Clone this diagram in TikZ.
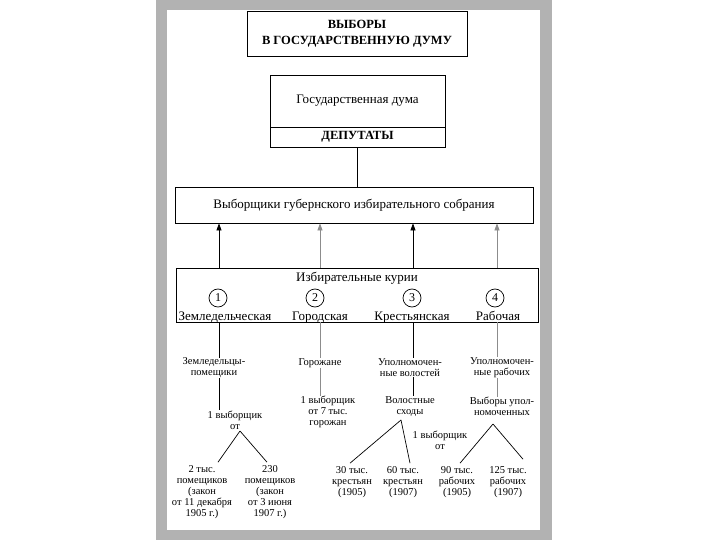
\documentclass[tikz,border=0pt]{standalone}
\usepackage{fontspec}
\setmainfont{Liberation Serif}
\usetikzlibrary{arrows.meta}
\begin{document}
\begin{tikzpicture}[x=1pt,y=-1pt,
  box/.style={draw, line width=0.8pt, inner sep=0pt},
  big/.style={font=\fontsize{13}{15}\selectfont},
  lab/.style={big, inner sep=0pt, anchor=base},
  txt/.style={font=\fontsize{10.5}{11}\selectfont, align=center, inner sep=0pt},
  ln/.style={line width=0.7pt},
  arr/.style={line width=0.7pt, -{Triangle[length=7pt,width=5pt]}},
  faint/.style={draw=black!45},
  num/.style={circle, draw, line width=0.7pt, minimum size=18pt, inner sep=0pt, font=\fontsize{12}{13}\selectfont}
]
\useasboundingbox (0,0) rectangle (720,540);
\fill[black!30] (156,0) rectangle (552,540);
\fill[white] (167,10) rectangle (540,530);

% title
\node[box, minimum width=220pt, minimum height=45pt, align=center,
      font=\fontsize{12.5}{16}\selectfont\bfseries] (title) at (357,33.5)
  {ВЫБОРЫ\\В ГОСУДАРСТВЕННУЮ ДУМУ};

% duma
\node[box, big, minimum width=175pt, minimum height=52pt] (duma) at (357.5,101) {Государственная дума};
\node[box, minimum width=175pt, minimum height=20pt, font=\fontsize{12.5}{13}\selectfont\bfseries] (dep) at (357.5,137) {ДЕПУТАТЫ};

% electors
\node[box, big, minimum width=358pt, minimum height=36pt] (vyb) at (354,205)
  {Выборщики губернского избирательного собрания};
\draw[ln] (dep.south) -- (dep.south |- vyb.north);

% curiae
\node[box, minimum width=362pt, minimum height=54pt] (kur) at (357,295) {};
\node[lab] (kurt) at (357,281.5) {Избирательные курии};
\node[num] (n1) at (218,298) {1};
\node[num] (n2) at (315,298) {2};
\node[num] (n3) at (412,298) {3};
\node[num] (n4) at (495,298) {4};
\node[lab] (k1) at (225,320) {Земледельческая};
\node[lab] (k2) at (320,320) {Городская};
\node[lab] (k3) at (412,320) {Крестьянская};
\node[lab] (k4) at (498,320) {Рабочая};

\coordinate (x1) at (219,0);
\coordinate (x2) at (320,0);
\coordinate (x3) at (413,0);
\coordinate (x4) at (497,0);

\draw[arr] (x1 |- kur.north) -- (x1 |- vyb.south);
\draw[arr, faint] (x2 |- kur.north) -- (x2 |- vyb.south);
\draw[arr] (x3 |- kur.north) -- (x3 |- vyb.south);
\draw[arr, faint] (x4 |- kur.north) -- (x4 |- vyb.south);

% column 1
\node[txt] (t1a) at (214,368) {Земледельцы-\\помещики};
\node[txt] (t1b) at (235,420) {1 выборщик\\от};
\coordinate (a1) at (240,431);
\node[txt] (t1c) at (202,492) {2 тыс.\\помещиков\\(закон\\от 11 декабря\\1905 г.)};
\node[txt] (t1d) at (270,492) {230\\помещиков\\(закон\\от 3 июня\\1907 г.)};
\draw[ln] (x1 |- kur.south) -- (x1 |- t1a.north);
\draw[ln] (x1 |- t1a.south) -- (x1 |- t1b.north);
\draw[ln] (a1) -- ([xshift=16pt,yshift=3pt]t1c.north);
\draw[ln] (a1) -- ([xshift=-3pt,yshift=3pt]t1d.north);

% column 2
\node[txt] (t2a) at (320,363) {Горожане};
\node[txt] (t2b) at (328,412) {1 выборщик\\от 7 тыс.\\горожан};
\draw[ln, faint] (x2 |- kur.south) -- (x2 |- t2a.north);
\draw[ln, faint] (x2 |- t2a.south) -- (x2 |- t2b.north);

% column 3
\node[txt] (t3a) at (410,367.5) {Уполномочен-\\ные волостей};
\node[txt] (t3b) at (410,406.5) {Волостные\\сходы};
\node[txt] (t3c) at (440,440) {1 выборщик\\от};
\coordinate (a3) at (401,420);
\node[txt] (t3d) at (352,482) {30 тыс.\\крестьян\\(1905)};
\node[txt] (t3e) at (403,482) {60 тыс.\\крестьян\\(1907)};
\draw[ln] (x3 |- kur.south) -- (x3 |- t3a.north);
\draw[ln] (x3 |- t3a.south) -- (x3 |- t3b.north);
\draw[ln] (a3) -- ([xshift=-2pt,yshift=3pt]t3d.north);
\draw[ln] (a3) -- ([xshift=7pt,yshift=3pt]t3e.north);

% column 4
\node[txt] (t4a) at (502,367.5) {Уполномочен-\\ные рабочих};
\node[txt] (t4b) at (502,406.5) {Выборы упол-\\номоченных};
\coordinate (a4) at (493,424);
\node[txt] (t4d) at (457,482) {90 тыс.\\рабочих\\(1905)};
\node[txt] (t4e) at (508,482) {125 тыс.\\рабочих\\(1907)};
\draw[ln, faint] (x4 |- kur.south) -- (x4 |- t4a.north);
\draw[ln, faint] (x4 |- t4a.south) -- (x4 |- t4b.north);
\draw[ln] (a4) -- ([xshift=3pt,yshift=3pt]t4d.north);
\draw[ln] (a4) -- ([xshift=15pt,yshift=7pt]t4e.north);
\end{tikzpicture}
\end{document}
